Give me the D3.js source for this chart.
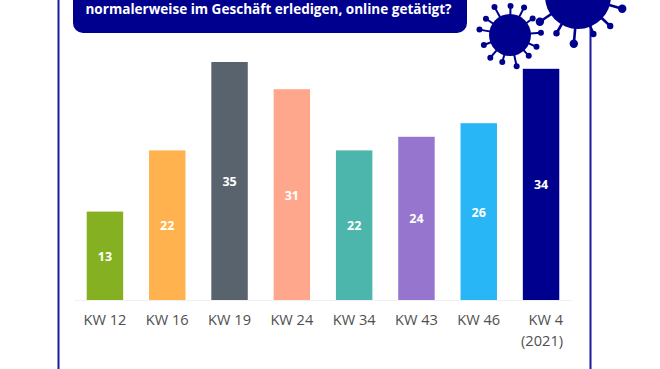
<!DOCTYPE html>
<html><head><meta charset="utf-8">
<script src="https://cdn.jsdelivr.net/npm/d3@7"></script>
<style>html,body{margin:0;padding:0;background:#fff}svg{display:block}</style></head>
<body><div id="c"></div>
<script>
const categories = ["KW 12","KW 16","KW 19","KW 24","KW 34","KW 43","KW 46","KW 4"];
const secondLines = ["","","","","","","","(2021)"];
const values = [13,22,35,31,22,24,26,34];
const colors = ["#85b021","#ffb24d","#59636e","#ffa78d","#4db6ac","#9575cd","#29b6f6","#00008f"];
const titleLine = "normalerweise im Geschäft erledigen, online getätigt?";
const smallSpikes = [[-29,32],[1,29],[27,31],[54,28],[86,31],[114,29],[138,28],[168,32],[196,28],[221,30],[249,28],[280,31],[304,29]];
const largeSpikes = [[185,48,4.2],[210,43,3.2],[236,46,4.2],[278,42,3.2],[158,41,3.2],[133,44,3.2],[106,46,4.2]];
const W=660,H=369,navy="#00008f",font="'Open Sans',sans-serif";
const svg=d3.select("#c").append("svg").attr("width",W).attr("height",H);

svg.append("path").attr("d","M58.5,0V369M590.5,0V369").attr("fill","none").attr("stroke","#1a1a9c").attr("stroke-width",2);
svg.append("rect").attr("x",73).attr("y",-20).attr("width",394).attr("height",53).attr("rx",10).attr("fill",navy);
svg.append("text").attr("x",268.5).attr("y",14).attr("text-anchor","middle").attr("fill","#fff")
  .attr("font-family",font).attr("font-weight",700).attr("font-size",13.55).text(titleLine);

const x=d3.scaleBand().domain(categories).range([73.8,572.2]).paddingInner(0.415).paddingOuter(0.2075);
const y=d3.scaleLinear().domain([0,35]).range([300,62]);
const last=categories.length-1;

const ax=svg.append("g").attr("transform","translate(0,300)").call(d3.axisBottom(x).tickSize(0).tickPadding(15));
ax.select(".domain").attr("stroke","#f0f0f0");
ax.selectAll("text").attr("font-family",font).attr("font-size",14.6).attr("fill","#505050");
ax.selectAll("text").filter((d,i)=>i===last).attr("text-anchor","end").attr("x",22);

svg.append("g").selectAll("rect").data(values).join("rect")
  .attr("x",(d,i)=>x(categories[i])).attr("width",x.bandwidth())
  .attr("y",d=>y(d)).attr("height",d=>y(0)-y(d)).attr("fill",(d,i)=>colors[i]);
svg.append("g").selectAll("text").data(values).join("text")
  .attr("x",(d,i)=>x(categories[i])+x.bandwidth()/2).attr("y",d=>(y(d)+y(0))/2+5)
  .attr("text-anchor","middle").attr("fill","#fff").attr("font-family",font).attr("font-weight",700).attr("font-size",12.5).text(d=>d);
svg.append("g").selectAll("text").data(secondLines).join("text")
  .attr("x",(d,i)=>x(categories[i])+x.bandwidth()/2+22).attr("y",346)
  .attr("text-anchor","end").attr("font-family",font).attr("font-size",14.6).attr("fill","#505050").text(d=>d);

function virus(cx,cy,r,spikes,sw,kr){
  const g=svg.append("g").attr("transform",`translate(${cx},${cy})`).attr("fill",navy).attr("stroke",navy);
  g.append("circle").attr("r",r).attr("stroke","none");
  const p=s=>{const a=(s[0]-90)*Math.PI/180;return [Math.cos(a)*s[1],Math.sin(a)*s[1]];};
  g.selectAll("line").data(spikes).join("line").attr("x1",0).attr("y1",0)
    .attr("x2",d=>p(d)[0]).attr("y2",d=>p(d)[1]).attr("stroke-width",sw);
  g.selectAll("circle.k").data(spikes).join("circle").attr("class","k").attr("stroke","none")
    .attr("cx",d=>p(d)[0]).attr("cy",d=>p(d)[1]).attr("r",d=>d[2]||kr);
}
virus(510,35,21,smallSpikes,2,3);
virus(578,-4,33,largeSpikes,2.6,3.5);
</script></body></html>
